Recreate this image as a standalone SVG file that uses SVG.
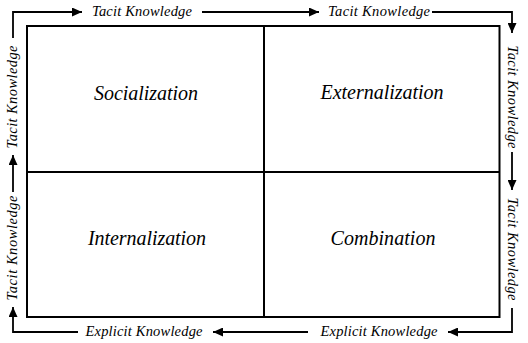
<svg xmlns="http://www.w3.org/2000/svg" width="528" height="343" viewBox="0 0 528 343">
  <style>
    .frame { fill: none; stroke: #000; stroke-width: 2; }
    .conn { fill: none; stroke: #000; stroke-width: 1.8; }
    .label { font-family: "Liberation Serif", "Times New Roman", serif; font-style: italic; fill: #000; }
    .quad { font-size: 20px; }
    .flow { font-size: 14.5px; }
  </style>
  <defs>
    <marker id="arrow" markerUnits="userSpaceOnUse" markerWidth="11" markerHeight="9" refX="10" refY="4.5" orient="auto">
      <path d="M0,0 L10,4.5 L0,9 Z" fill="#000"/>
    </marker>
  </defs>

  <rect width="528" height="343" fill="#fff"/>

  <!-- SECI matrix -->
  <g id="matrix">
    <rect class="frame" x="27" y="26" width="472.5" height="291"/>
    <line class="frame" x1="264" y1="26" x2="264" y2="317"/>
    <line class="frame" x1="27" y1="172" x2="499.5" y2="172"/>
  </g>

  <g id="socialization">
    <text class="label quad" x="146" y="100" text-anchor="middle" textLength="104">Socialization</text>
  </g>
  <g id="externalization">
    <text class="label quad" x="382" y="99" text-anchor="middle" textLength="123">Externalization</text>
  </g>
  <g id="internalization">
    <text class="label quad" x="147" y="245" text-anchor="middle" textLength="118">Internalization</text>
  </g>
  <g id="combination">
    <text class="label quad" x="383" y="245" text-anchor="middle" textLength="105">Combination</text>
  </g>

  <!-- knowledge flow around the matrix -->
  <g id="connectors">
    <polyline class="conn" points="13,38 13,12 82,12" marker-end="url(#arrow)"/>
    <line class="conn" x1="202" y1="12" x2="319" y2="12" marker-end="url(#arrow)"/>
    <polyline class="conn" points="432,12 512,12 512,33" marker-end="url(#arrow)"/>
    <line class="conn" x1="512" y1="152" x2="512" y2="190" marker-end="url(#arrow)"/>
    <polyline class="conn" points="512,308 512,332 448,332" marker-end="url(#arrow)"/>
    <line class="conn" x1="308" y1="332" x2="213" y2="332" marker-end="url(#arrow)"/>
    <polyline class="conn" points="78,332 13,332 13,307" marker-end="url(#arrow)"/>
    <line class="conn" x1="13" y1="192" x2="13" y2="155" marker-end="url(#arrow)"/>
  </g>

  <g id="flow-labels">
    <text class="label flow" x="142" y="16" text-anchor="middle" textLength="100">Tacit Knowledge</text>
    <text class="label flow" x="379" y="16" text-anchor="middle" textLength="102">Tacit Knowledge</text>
    <text class="label flow" x="144" y="336" text-anchor="middle" textLength="117">Explicit Knowledge</text>
    <text class="label flow" x="379" y="336" text-anchor="middle" textLength="117">Explicit Knowledge</text>
    <text class="label flow" transform="translate(508,97) rotate(90)" text-anchor="middle" textLength="103">Tacit Knowledge</text>
    <text class="label flow" transform="translate(508,249) rotate(90)" text-anchor="middle" textLength="103">Tacit Knowledge</text>
    <text class="label flow" transform="translate(17,97) rotate(-90)" text-anchor="middle" textLength="103">Tacit Knowledge</text>
    <text class="label flow" transform="translate(17,248) rotate(-90)" text-anchor="middle" textLength="105">Tacit Knowledge</text>
  </g>
</svg>
